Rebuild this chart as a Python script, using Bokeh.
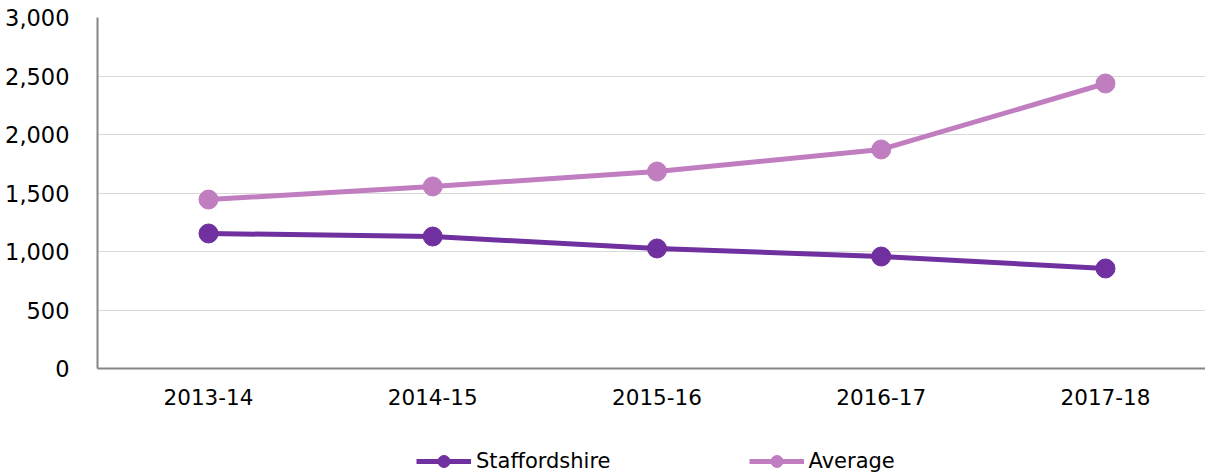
from bokeh.plotting import figure
from bokeh.layouts import column
from bokeh.models import Range1d, Legend, LegendItem, NumeralTickFormatter, SingleIntervalTicker, FixedTicker
from bokeh.embed import file_html
from bokeh.resources import INLINE

years = ["2013-14", "2014-15", "2015-16", "2016-17", "2017-18"]
staffordshire = [1154, 1128, 1026, 957, 855]
average = [1444, 1556, 1684, 1872, 2436]

FONT = "DejaVu Sans"
C_STAFF = "#7030A0"
C_AVG = "#C07DBF"

xs = list(range(len(years)))

p = figure(x_range=Range1d(-0.495, 4.446), y_range=Range1d(0, 3000),
           width=1205, height=420, output_backend="svg", toolbar_location=None,
           min_border_left=97, min_border_top=17, min_border_right=0, min_border_bottom=52)
p.outline_line_color = None
p.background_fill_color = "white"
p.border_fill_color = "white"

p.line(xs, staffordshire, line_color=C_STAFF, line_width=5)
p.scatter(xs, staffordshire, size=19, fill_color=C_STAFF, line_color=C_STAFF)
p.line(xs, average, line_color=C_AVG, line_width=5)
p.scatter(xs, average, size=19, fill_color=C_AVG, line_color=C_AVG)

p.xaxis.ticker = FixedTicker(ticks=xs)
p.xaxis.major_label_overrides = {i: y for i, y in zip(xs, years)}
p.yaxis.ticker = SingleIntervalTicker(interval=500)
p.yaxis.formatter = NumeralTickFormatter(format="0,0")
for ax in (p.xaxis[0], p.yaxis[0]):
    ax.axis_line_color = "#868686"
    ax.axis_line_width = 2
    ax.major_tick_line_color = None
    ax.minor_tick_line_color = None
    ax.major_label_text_font = FONT
    ax.major_label_text_color = "#000000"
p.yaxis.major_label_text_font_size = "22.5px"
p.xaxis.major_label_text_font_size = "21.5px"
p.yaxis.major_label_standoff = 22
p.xaxis.major_label_standoff = 14

p.xgrid.grid_line_color = None
p.ygrid.grid_line_color = "#D9D9D9"
p.ygrid.grid_line_width = 1

# legend strip (series drawn out of view so only the legend shows)
lg = figure(width=1205, height=56, output_backend="svg", toolbar_location=None,
            x_axis_type=None, y_axis_type=None, min_border=0,
            x_range=Range1d(-0.495, 4.446), y_range=Range1d(-2, -1))
lg.outline_line_color = None
lg.grid.grid_line_color = None
l1 = lg.line(xs, staffordshire, line_color=C_STAFF, line_width=5)
m1 = lg.scatter(xs, staffordshire, size=12, fill_color=C_STAFF, line_color=C_STAFF)
l2 = lg.line(xs, average, line_color=C_AVG, line_width=5)
m2 = lg.scatter(xs, average, size=12, fill_color=C_AVG, line_color=C_AVG)
legend = Legend(items=[LegendItem(label="Staffordshire", renderers=[l1, m1]),
                       LegendItem(label="Average", renderers=[l2, m2])],
                orientation="horizontal", location=(319, 0),
                label_text_font=FONT, label_text_font_size="21px", label_text_color="#000000",
                glyph_width=55, glyph_height=30, label_standoff=5, spacing=138,
                border_line_color=None, background_fill_alpha=0,
                margin=0, padding=0)
lg.add_layout(legend, "center")

layout = column(p, lg, spacing=0)
open("out.html", "w").write(file_html(layout, INLINE))
